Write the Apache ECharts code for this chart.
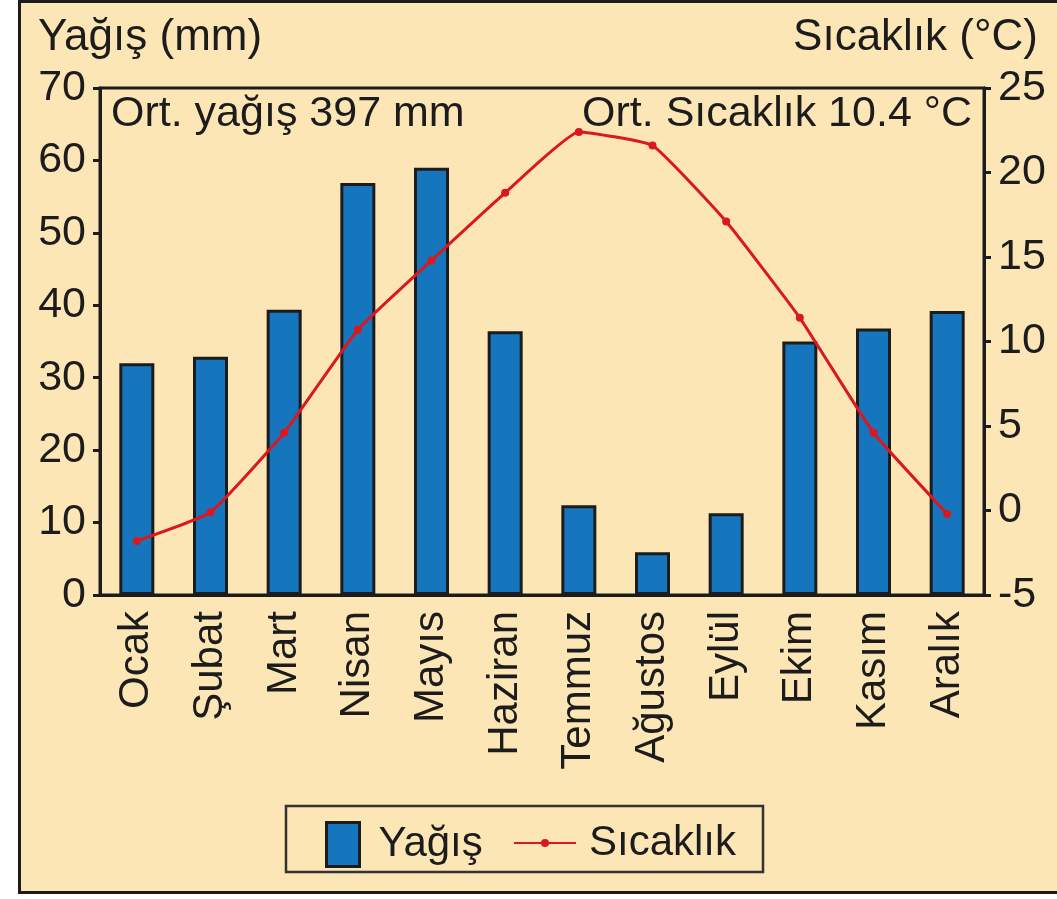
<!DOCTYPE html>
<html>
<head>
<meta charset="utf-8">
<script src="https://cdn.jsdelivr.net/npm/echarts@6/dist/echarts.min.js"></script>
<style>
  body { margin: 0; background: #ffffff; }
  #frame { position: absolute; left: 18px; top: 0px; width: 1060px; height: 888px;
           border: 3px solid #1c1c1c; border-right: none; background: #fde6b5; }
  #chart { position: absolute; left: 0; top: 0; width: 1057px; height: 899px; }
</style>
</head>
<body>
<div id="frame"></div>
<div id="chart"></div>
<script>
const months = ['Ocak', 'Şubat', 'Mart', 'Nisan', 'Mayıs', 'Haziran', 'Temmuz', 'Ağustos', 'Eylül', 'Ekim', 'Kasım', 'Aralık'];
const rainfall = [32.0, 32.9, 39.4, 56.9, 59.0, 36.4, 12.4, 5.9, 11.3, 35.0, 36.8, 39.2];
const temperature = [-1.8, -0.1, 4.6, 10.7, 14.8, 18.8, 22.4, 21.6, 17.1, 11.4, 4.6, -0.2];

const font = 'Liberation Sans, Arial, sans-serif';
const ink = '#1c1c1c';

const chart = echarts.init(document.getElementById('chart'));

const option = {
  backgroundColor: 'transparent',
  animation: false,
  textStyle: { fontFamily: font, color: ink },
  title: [
    { text: 'Yağış (mm)', left: 33, top: 11, textStyle: { fontSize: 44, fontWeight: 'normal', color: ink, fontFamily: font } },
    { text: 'Sıcaklık (°C)', right: 14, top: 11, textStyle: { fontSize: 44, fontWeight: 'normal', color: ink, fontFamily: font } },
    { text: 'Ort. yağış 397 mm', left: 106, top: 88, textStyle: { fontSize: 43, fontWeight: 'normal', color: ink, fontFamily: font } },
    { text: 'Ort. Sıcaklık 10.4 °C', right: 80, top: 88, textStyle: { fontSize: 43, fontWeight: 'normal', color: ink, fontFamily: font } }
  ],
  grid: {
    left: 100, right: 73, top: 88, bottom: 304,
    show: true, borderColor: ink, borderWidth: 3, backgroundColor: 'transparent'
  },
  legend: [
    {
      data: [{ name: 'Yağış', icon: 'rect' }],
      left: 320, top: 816, itemWidth: 33, itemHeight: 44,
      itemStyle: { borderColor: ink, borderWidth: 3 },
      textStyle: { fontSize: 42, color: ink, fontFamily: font, padding: [0, 0, 0, 14] }
    },
    {
      data: ['Sıcaklık'],
      left: 508, top: 817, itemWidth: 62, itemHeight: 10,
      textStyle: { fontSize: 42, color: ink, fontFamily: font, padding: [0, 0, 0, 8] }
    }
  ],
  graphic: [
    { type: 'rect', shape: { x: 286, y: 806, width: 477, height: 66 },
      style: { fill: 'transparent', stroke: '#333', lineWidth: 2.5 } }
  ],
  xAxis: {
    type: 'category',
    data: months,
    boundaryGap: true,
    axisLine: { lineStyle: { color: ink, width: 3 } },
    axisTick: { interval: 0, length: 7, lineStyle: { color: ink, width: 3 } },
    axisLabel: { interval: 0, rotate: 90, margin: 16, fontSize: 42, color: ink, fontFamily: font }
  },
  yAxis: [
    {
      type: 'value', min: 0, max: 70, interval: 10,
      axisLine: { show: true, lineStyle: { color: ink, width: 3 } },
      axisTick: { show: true, length: 7, lineStyle: { color: ink, width: 3 } },
      axisLabel: { margin: 14, fontSize: 43, color: ink, fontFamily: font },
      splitLine: { show: false }
    },
    {
      type: 'value', min: -5, max: 25, interval: 5, position: 'right',
      axisLine: { show: true, lineStyle: { color: ink, width: 3 } },
      axisTick: { show: true, length: 7, lineStyle: { color: ink, width: 3 } },
      axisLabel: { margin: 14, fontSize: 43, color: ink, fontFamily: font },
      splitLine: { show: false }
    }
  ],
  series: [
    {
      name: 'Yağış',
      type: 'bar',
      data: rainfall,
      barWidth: 35,
      itemStyle: { color: '#1676bd', borderColor: ink, borderWidth: 3 }
    },
    {
      name: 'Sıcaklık',
      type: 'line',
      yAxisIndex: 1,
      data: temperature,
      smooth: 0.12,
      symbol: 'circle',
      symbolSize: 8,
      lineStyle: { color: '#d9191f', width: 3 },
      itemStyle: { color: '#d9191f' }
    }
  ]
};

chart.setOption(option);
</script>
</body>
</html>
